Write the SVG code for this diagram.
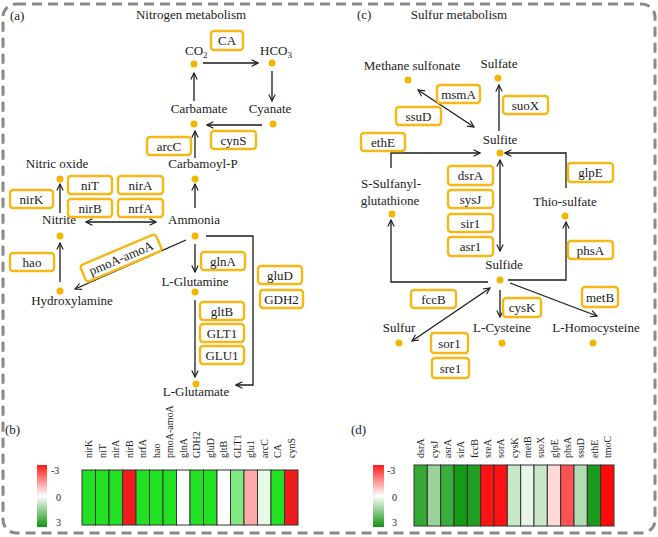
<svg xmlns="http://www.w3.org/2000/svg" width="658" height="537" viewBox="0 0 658 537">
<defs>
<style>
text{font-family:"Liberation Serif","Times New Roman",serif;fill:#1a1a1a;}
.t{font-size:13px;text-anchor:middle;}
.h{font-size:13px;}
.box{fill:#fff;stroke:#f5b814;stroke-width:2.4;}
.dot{fill:#f5b400;}
.ln{fill:none;stroke:#1a1a1a;stroke-width:1.3;}
.hl{font-size:10px;}
.cell{stroke:#333;stroke-width:1;}
.cb{font-size:10px;}
</style>
<marker id="ah" viewBox="0 0 10 10" refX="9" refY="5" markerWidth="8" markerHeight="8" markerUnits="userSpaceOnUse" orient="auto-start-reverse">
<path d="M1,1 L9,5 L1,9" fill="none" stroke="#1a1a1a" stroke-width="1.4"/>
</marker>
<linearGradient id="cbar" x1="0" y1="0" x2="0" y2="1">
<stop offset="0" stop-color="#ff1a1a"/>
<stop offset="0.5" stop-color="#ffffff"/>
<stop offset="1" stop-color="#129412"/>
</linearGradient>
</defs>
<rect width="658" height="537" fill="#fff"/>
<rect x="3" y="4" width="652" height="529" rx="13" fill="none" stroke="#8a8a8a" stroke-width="3" stroke-dasharray="10 6"/>

<g id="titles">
<text class="h" x="10" y="20">(a)</text>
<text class="t" x="191" y="19">Nitrogen metabolism</text>
<text class="h" x="357" y="19">(c)</text>
<text class="t" x="459" y="19">Sulfur metabolism</text>
<text class="h" x="5" y="434">(b)</text>
<text class="h" x="351" y="434">(d)</text>
</g>

<g id="connectors">
<path class="ln" d="M203,63 L258,63" marker-end="url(#ah)"/>
<path class="ln" d="M272,71 L272,101" marker-end="url(#ah)"/>
<path class="ln" d="M262,125 L207,125" marker-end="url(#ah)"/>
<path class="ln" d="M194,101 L194,73" marker-end="url(#ah)"/>
<path class="ln" d="M195,158 L195,131" marker-end="url(#ah)"/>
<path class="ln" d="M195,208 L195,184" marker-end="url(#ah)"/>
<path class="ln" d="M60,213 L60,184" marker-end="url(#ah)"/>
<path class="ln" d="M86,222 L156,222" marker-start="url(#ah)" marker-end="url(#ah)"/>
<path class="ln" d="M60,282 L60,243" marker-end="url(#ah)"/>
<path class="ln" d="M186,240 L75,289" marker-end="url(#ah)"/>
<path class="ln" d="M195,244 L195,272" marker-end="url(#ah)"/>
<path class="ln" d="M195,300 L195,377" marker-end="url(#ah)"/>
<path class="ln" d="M206,236 L253,236 L253,385 L236,385" marker-end="url(#ah)"/>
<path class="ln" d="M418,90 L474,127" marker-start="url(#ah)" marker-end="url(#ah)"/>
<path class="ln" d="M499,131 L499,85" marker-end="url(#ah)"/>
<path class="ln" d="M391,168 L391,153 L480,153" marker-end="url(#ah)"/>
<path class="ln" d="M566,188 L566,153 L505,153" marker-end="url(#ah)"/>
<path class="ln" d="M500,160 L500,251" marker-start="url(#ah)" marker-end="url(#ah)"/>
<path class="ln" d="M488,282 L391,282 L391,220" marker-end="url(#ah)"/>
<path class="ln" d="M508,280 L566,280 L566,222" marker-end="url(#ah)"/>
<path class="ln" d="M490,288 L412,341" marker-start="url(#ah)" marker-end="url(#ah)"/>
<path class="ln" d="M500,290 L500,317" marker-end="url(#ah)"/>
<path class="ln" d="M510,283 L597,316" marker-end="url(#ah)"/>
</g>

<g id="n-co2"><text class="h" x="185" y="55">CO<tspan font-size="9" dy="3">2</tspan></text><circle class="dot" cx="194" cy="64" r="3.5"/></g>
<g id="n-hco3"><text class="h" x="260" y="55">HCO<tspan font-size="9" dy="3">3</tspan></text><circle class="dot" cx="272" cy="63" r="3.5"/></g>
<g id="n-carbamate"><text class="t" x="199" y="113">Carbamate</text><circle class="dot" cx="194" cy="124" r="3.5"/></g>
<g id="n-cyanate"><text class="t" x="270" y="113">Cyanate</text><circle class="dot" cx="273" cy="124" r="3.5"/></g>
<g id="n-carbamoylp"><text class="t" x="203" y="168">Carbamoyl-P</text><circle class="dot" cx="195" cy="179" r="3.5"/></g>
<g id="n-nitricoxide"><text class="t" x="57" y="168">Nitric oxide</text><circle class="dot" cx="60" cy="179" r="3.5"/></g>
<g id="n-nitrite"><text class="t" x="59" y="224">Nitrite</text><circle class="dot" cx="60" cy="236" r="3.5"/></g>
<g id="n-ammonia"><text class="t" x="194" y="224">Ammonia</text><circle class="dot" cx="195" cy="236" r="3.5"/></g>
<g id="n-hydroxylamine"><text class="t" x="72" y="305">Hydroxylamine</text><circle class="dot" cx="60" cy="291" r="3.5"/></g>
<g id="n-glutamine"><text class="t" x="195" y="286">L-Glutamine</text><circle class="dot" cx="195" cy="292" r="3.5"/></g>
<g id="n-glutamate"><text class="t" x="196" y="396">L-Glutamate</text><circle class="dot" cx="196" cy="384" r="3.5"/></g>

<g id="g-CA"><rect class="box" x="211" y="31" width="32" height="19" rx="3"/><text class="t" x="227" y="45">CA</text></g>
<g id="g-cynS"><rect class="box" x="211" y="131" width="45" height="18" rx="3"/><text class="t" x="233.5" y="144.5">cynS</text></g>
<g id="g-arcC"><rect class="box" x="147" y="137" width="44" height="18" rx="3"/><text class="t" x="169" y="150.5">arcC</text></g>
<g id="g-niT"><rect class="box" x="68" y="176" width="44" height="18" rx="3"/><text class="t" x="90" y="189.5">niT</text></g>
<g id="g-nirA"><rect class="box" x="118" y="176" width="45" height="18" rx="3"/><text class="t" x="140.5" y="189.5">nirA</text></g>
<g id="g-nirK"><rect class="box" x="10" y="190" width="43" height="18" rx="3"/><text class="t" x="31.5" y="203.5">nirK</text></g>
<g id="g-nirB"><rect class="box" x="68" y="199" width="44" height="18" rx="3"/><text class="t" x="90" y="212.5">nirB</text></g>
<g id="g-nrfA"><rect class="box" x="118" y="199" width="45" height="18" rx="3"/><text class="t" x="140.5" y="212.5">nrfA</text></g>
<g id="g-hao"><rect class="box" x="10" y="253" width="44" height="18" rx="3"/><text class="t" x="32" y="266.5">hao</text></g>
<g id="g-pmoA" transform="translate(121,258) rotate(-23)"><rect class="box" x="-41" y="-9" width="82" height="18" rx="3"/><text class="t" x="0" y="4.5">pmoA-amoA</text></g>
<g id="g-glnA"><rect class="box" x="201" y="252" width="44" height="18" rx="3"/><text class="t" x="223" y="265.5">glnA</text></g>
<g id="g-gluD"><rect class="box" x="258" y="266" width="44" height="18" rx="3"/><text class="t" x="280" y="279.5">gluD</text></g>
<g id="g-GDH2"><rect class="box" x="260" y="290" width="43" height="18" rx="3"/><text class="t" x="281.5" y="303.5">GDH2</text></g>
<g id="g-gltB"><rect class="box" x="200" y="302" width="44" height="18" rx="3"/><text class="t" x="222" y="315.5">gltB</text></g>
<g id="g-GLT1"><rect class="box" x="200" y="324" width="44" height="18" rx="3"/><text class="t" x="222" y="337.5">GLT1</text></g>
<g id="g-GLU1"><rect class="box" x="200" y="346" width="44" height="18" rx="3"/><text class="t" x="222" y="359.5">GLU1</text></g>

<g id="s-methane"><text class="t" x="412" y="70">Methane sulfonate</text><circle class="dot" cx="408" cy="80" r="3.5"/></g>
<g id="s-sulfate"><text class="t" x="499" y="68">Sulfate</text><circle class="dot" cx="498" cy="78" r="3.5"/></g>
<g id="s-sulfite"><text class="t" x="500" y="144">Sulfite</text><circle class="dot" cx="500" cy="153" r="3.5"/></g>
<g id="s-ssg"><text class="t" x="391" y="188">S-Sulfanyl-</text><text class="t" x="390" y="205">glutathione</text><circle class="dot" cx="392" cy="214" r="3.5"/></g>
<g id="s-thio"><text class="t" x="565" y="206">Thio-sulfate</text><circle class="dot" cx="565" cy="216" r="3.5"/></g>
<g id="s-sulfide"><text class="t" x="504" y="269">Sulfide</text><circle class="dot" cx="500" cy="280" r="3.5"/></g>
<g id="s-sulfur"><text class="t" x="399" y="332">Sulfur</text><circle class="dot" cx="399" cy="343" r="3.5"/></g>
<g id="s-cysteine"><text class="t" x="502" y="332">L-Cysteine</text><circle class="dot" cx="502" cy="343" r="3.5"/></g>
<g id="s-homocysteine"><text class="t" x="596" y="332">L-Homocysteine</text><circle class="dot" cx="593" cy="343" r="3.5"/></g>

<g id="g-msmA"><rect class="box" x="437" y="85" width="43" height="18" rx="3"/><text class="t" x="458.5" y="98.5">msmA</text></g>
<g id="g-ssuD"><rect class="box" x="396" y="107" width="45" height="18" rx="3"/><text class="t" x="418.5" y="120.5">ssuD</text></g>
<g id="g-suoX"><rect class="box" x="503" y="96" width="45" height="18" rx="3"/><text class="t" x="525.5" y="109.5">suoX</text></g>
<g id="g-ethE"><rect class="box" x="361" y="133" width="44" height="18" rx="3"/><text class="t" x="383" y="146.5">ethE</text></g>
<g id="g-glpE"><rect class="box" x="568" y="163" width="45" height="19" rx="3"/><text class="t" x="590.5" y="177">glpE</text></g>
<g id="g-dsrA"><rect class="box" x="448" y="166" width="45" height="19" rx="3"/><text class="t" x="470.5" y="180">dsrA</text></g>
<g id="g-sysJ"><rect class="box" x="448" y="190" width="45" height="18" rx="3"/><text class="t" x="470.5" y="203.5">sysJ</text></g>
<g id="g-sir1"><rect class="box" x="448" y="214" width="45" height="18" rx="3"/><text class="t" x="470.5" y="227.5">sir1</text></g>
<g id="g-asr1"><rect class="box" x="448" y="237" width="45" height="19" rx="3"/><text class="t" x="470.5" y="251">asr1</text></g>
<g id="g-phsA"><rect class="box" x="568" y="241" width="45" height="18" rx="3"/><text class="t" x="590.5" y="254.5">phsA</text></g>
<g id="g-fccB"><rect class="box" x="411" y="290" width="45" height="18" rx="3"/><text class="t" x="433.5" y="303.5">fccB</text></g>
<g id="g-cysK"><rect class="box" x="503" y="298" width="38" height="19" rx="3"/><text class="t" x="522" y="312">cysK</text></g>
<g id="g-metB"><rect class="box" x="582" y="287" width="36" height="20" rx="3"/><text class="t" x="600" y="301.5">metB</text></g>
<g id="g-sor1"><rect class="box" x="431" y="333" width="37" height="20" rx="3"/><text class="t" x="449.5" y="347.5">sor1</text></g>
<g id="g-sre1"><rect class="box" x="432" y="358" width="37" height="20" rx="3"/><text class="t" x="450.5" y="372.5">sre1</text></g>

<g id="heatmap-b">
<rect x="37" y="465" width="10" height="62" fill="url(#cbar)"/>
<text class="cb" x="51" y="474">-3</text>
<text class="cb" x="56" y="501">0</text>
<text class="cb" x="56" y="526">3</text>
<g class="cell">
<rect x="82" y="470" width="13.5" height="55" fill="#22e022"/>
<rect x="95.5" y="470" width="13.5" height="55" fill="#22e022"/>
<rect x="109" y="470" width="13.5" height="55" fill="#22e022"/>
<rect x="122.5" y="470" width="13.5" height="55" fill="#f01c1c"/>
<rect x="136" y="470" width="13.5" height="55" fill="#22e022"/>
<rect x="149.5" y="470" width="13.5" height="55" fill="#22e022"/>
<rect x="163" y="470" width="13.5" height="55" fill="#22e022"/>
<rect x="176.5" y="470" width="13.5" height="55" fill="#ffffff"/>
<rect x="190" y="470" width="13.5" height="55" fill="#22e022"/>
<rect x="203.5" y="470" width="13.5" height="55" fill="#22e022"/>
<rect x="217" y="470" width="13.5" height="55" fill="#ffffff"/>
<rect x="230.5" y="470" width="13.5" height="55" fill="#80ea80"/>
<rect x="244" y="470" width="13.5" height="55" fill="#ffaaaa"/>
<rect x="257.5" y="470" width="13.5" height="55" fill="#e6fae6"/>
<rect x="271" y="470" width="13.5" height="55" fill="#22e022"/>
<rect x="284.5" y="470" width="13.5" height="55" fill="#f01c1c"/>
</g>
<g class="hl">
<text transform="translate(92.2,458) rotate(-90)">nirK</text>
<text transform="translate(105.7,458) rotate(-90)">niT</text>
<text transform="translate(119.2,458) rotate(-90)">nirA</text>
<text transform="translate(132.7,458) rotate(-90)">nirB</text>
<text transform="translate(146.2,458) rotate(-90)">nrfA</text>
<text transform="translate(159.7,458) rotate(-90)">hao</text>
<text transform="translate(173.2,458) rotate(-90)">pmoA-amoA</text>
<text transform="translate(186.7,458) rotate(-90)">glnA</text>
<text transform="translate(200.2,458) rotate(-90)">GDH2</text>
<text transform="translate(213.7,458) rotate(-90)">gluD</text>
<text transform="translate(227.2,458) rotate(-90)">gltB</text>
<text transform="translate(240.7,458) rotate(-90)">GLT1</text>
<text transform="translate(254.2,458) rotate(-90)">glu1</text>
<text transform="translate(267.7,458) rotate(-90)">arcC</text>
<text transform="translate(281.2,458) rotate(-90)">CA</text>
<text transform="translate(294.7,458) rotate(-90)">cynS</text>
</g>
</g>

<g id="heatmap-d">
<rect x="373" y="465" width="11" height="62" fill="url(#cbar)"/>
<text class="cb" x="387" y="474">-3</text>
<text class="cb" x="392" y="501">0</text>
<text class="cb" x="392" y="526">3</text>
<g class="cell">
<rect x="414" y="465" width="13.33" height="61" fill="#33a833"/>
<rect x="427.33" y="465" width="13.33" height="61" fill="#9ad29a"/>
<rect x="440.67" y="465" width="13.33" height="61" fill="#3aae3a"/>
<rect x="454" y="465" width="13.33" height="61" fill="#149a14"/>
<rect x="467.33" y="465" width="13.33" height="61" fill="#229f22"/>
<rect x="480.67" y="465" width="13.33" height="61" fill="#ff1212"/>
<rect x="494" y="465" width="13.33" height="61" fill="#ff1212"/>
<rect x="507.33" y="465" width="13.33" height="61" fill="#c9e8c9"/>
<rect x="520.67" y="465" width="13.33" height="61" fill="#e8f6e8"/>
<rect x="534" y="465" width="13.33" height="61" fill="#c9e8c9"/>
<rect x="547.33" y="465" width="13.33" height="61" fill="#ffd8d8"/>
<rect x="560.67" y="465" width="13.33" height="61" fill="#ff5252"/>
<rect x="574" y="465" width="13.33" height="61" fill="#b4dcb4"/>
<rect x="587.33" y="465" width="13.33" height="61" fill="#1a9a1a"/>
<rect x="600.67" y="465" width="13.33" height="61" fill="#ff0a0a"/>
</g>
<g class="hl">
<text transform="translate(424.2,458) rotate(-90)">dsrA</text>
<text transform="translate(437.5,458) rotate(-90)">cysJ</text>
<text transform="translate(450.8,458) rotate(-90)">asrA</text>
<text transform="translate(464.2,458) rotate(-90)">sirA</text>
<text transform="translate(477.5,458) rotate(-90)">fccB</text>
<text transform="translate(490.8,458) rotate(-90)">sreA</text>
<text transform="translate(504.2,458) rotate(-90)">sorA</text>
<text transform="translate(517.5,458) rotate(-90)">cysK</text>
<text transform="translate(530.8,458) rotate(-90)">metB</text>
<text transform="translate(544.2,458) rotate(-90)">suoX</text>
<text transform="translate(557.5,458) rotate(-90)">glpE</text>
<text transform="translate(570.8,458) rotate(-90)">phsA</text>
<text transform="translate(584.2,458) rotate(-90)">ssuD</text>
<text transform="translate(597.5,458) rotate(-90)">ethE</text>
<text transform="translate(610.8,458) rotate(-90)">tmoC</text>
</g>
</g>
</svg>
